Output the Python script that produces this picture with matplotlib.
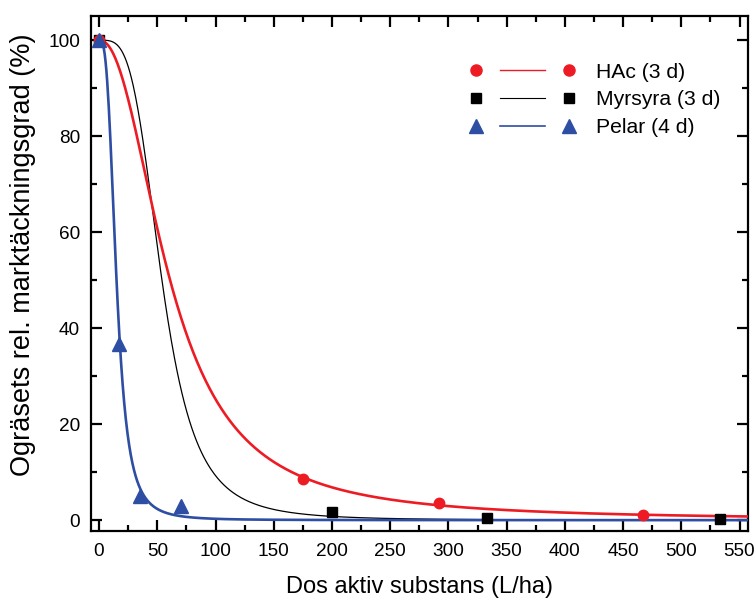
import numpy as np
import matplotlib
matplotlib.use("Agg")
import matplotlib.pyplot as plt
from matplotlib.legend_handler import HandlerLine2D
from matplotlib.lines import Line2D
from matplotlib.ticker import MultipleLocator

plt.rcParams['font.family'] = ['Liberation Sans', 'DejaVu Sans']

# measured points
hac_x = [0, 175, 292, 467]
hac_y = [100, 8.5, 3.6, 1.0]
myr_x = [0, 200, 333, 533]
myr_y = [100, 1.7, 0.5, 0.3]
pel_x = [0, 17.5, 35, 70]
pel_y = [100, 36.7, 5.0, 3.0]

# fitted dose-response curves (log-logistic): ED50, slope
hac_fit = [61, 2.2]
myr_fit = [54, 3.7]
pel_fit = [15, 3.1]

labels = ['HAc (3 d)', 'Myrsyra (3 d)', 'Pelar (4 d)']
colors = ['#ed1c24', '#000000', '#2e4ea3']

RED, BLACK, BLUE = colors


def loglogistic(x, ed50, slope):
    return 100.0 / (1.0 + (x / ed50) ** slope)


class GapHandler(HandlerLine2D):
    # marker - gap - line - gap - marker
    def create_artists(self, legend, orig_handle, xdescent, ydescent,
                       width, height, fontsize, trans):
        line = super().create_artists(legend, orig_handle, xdescent, ydescent,
                                      width, height, fontsize, trans)[0]
        x = np.asarray(line.get_xdata(), dtype=float)
        y = np.asarray(line.get_ydata(), dtype=float)
        mk = Line2D(x, y, linestyle='None', marker=line.get_marker(),
                    markersize=line.get_markersize(),
                    markerfacecolor=line.get_markerfacecolor(),
                    markeredgecolor=line.get_markeredgecolor())
        mk.set_transform(trans)
        x0, x1 = x.min(), x.max()
        gap = 0.26 * (x1 - x0)
        line.set_marker('None')
        line.set_markevery(None)
        line.set_data([x0 + gap, x1 - gap], [y.mean(), y.mean()])
        return [line, mk]


fig = plt.figure(figsize=(7.55, 6.0), dpi=100)
ax = fig.add_axes([0.1201, 0.1155, 0.8702, 0.8583])

xs = np.linspace(0, 557, 800)

ax.plot(xs, loglogistic(xs, *myr_fit), color=BLACK, lw=0.9, zorder=2)
ax.plot(xs, loglogistic(xs, *hac_fit), color=RED, lw=1.9, zorder=3)
ax.plot(xs, loglogistic(xs, *pel_fit), color=BLUE, lw=1.9, zorder=4)

ax.plot(myr_x, myr_y, 's', color=BLACK, ms=6.5, zorder=5)
ax.plot(hac_x, hac_y, 'o', color=RED, ms=7.5, zorder=5)
ax.plot(pel_x, pel_y, '^', color=BLUE, ms=9.5, zorder=6)

h_hac, = ax.plot([], [], '-o', color=RED, lw=1.0, ms=8)
h_myr, = ax.plot([], [], '-s', color=BLACK, lw=0.8, ms=6.5)
h_pel, = ax.plot([], [], '-^', color=BLUE, lw=1.2, ms=9.5)

leg = ax.legend([h_hac, h_myr, h_pel], labels,
                handler_map={h: GapHandler(numpoints=2) for h in (h_hac, h_myr, h_pel)},
                loc='upper left', bbox_to_anchor=(0.577, 0.909),
                frameon=False, fontsize=15.2, handlelength=5.0,
                handletextpad=1.0, labelspacing=0.42, borderpad=0,
                borderaxespad=0)

ax.set_xlim(-7.2, 557)
ax.set_ylim(-2.2, 105.1)

ax.xaxis.set_major_locator(MultipleLocator(50))
ax.xaxis.set_minor_locator(MultipleLocator(25))
ax.yaxis.set_major_locator(MultipleLocator(20))
ax.yaxis.set_minor_locator(MultipleLocator(10))

ax.tick_params(which='both', direction='in', top=True, right=True,
               width=1.6, labelsize=13.7)
ax.tick_params(which='major', length=8)
ax.tick_params(which='minor', length=4.5)
ax.tick_params(axis='x', which='major', pad=8.5)
ax.tick_params(axis='y', which='major', pad=7.7)

for s in ax.spines.values():
    s.set_linewidth(1.6)

ax.set_xlabel('Dos aktiv substans (L/ha)', fontsize=17)
ax.xaxis.set_label_coords(0.5, -0.087, transform=ax.transAxes)
ax.xaxis.label.set_va('top')
ax.set_ylabel('Ogräsets rel. marktäckningsgrad (%)', fontsize=19.5)
ax.yaxis.set_label_coords(-0.103, 0.535, transform=ax.transAxes)
ax.yaxis.label.set_va('center')

fig.savefig('out.png', dpi=100)
